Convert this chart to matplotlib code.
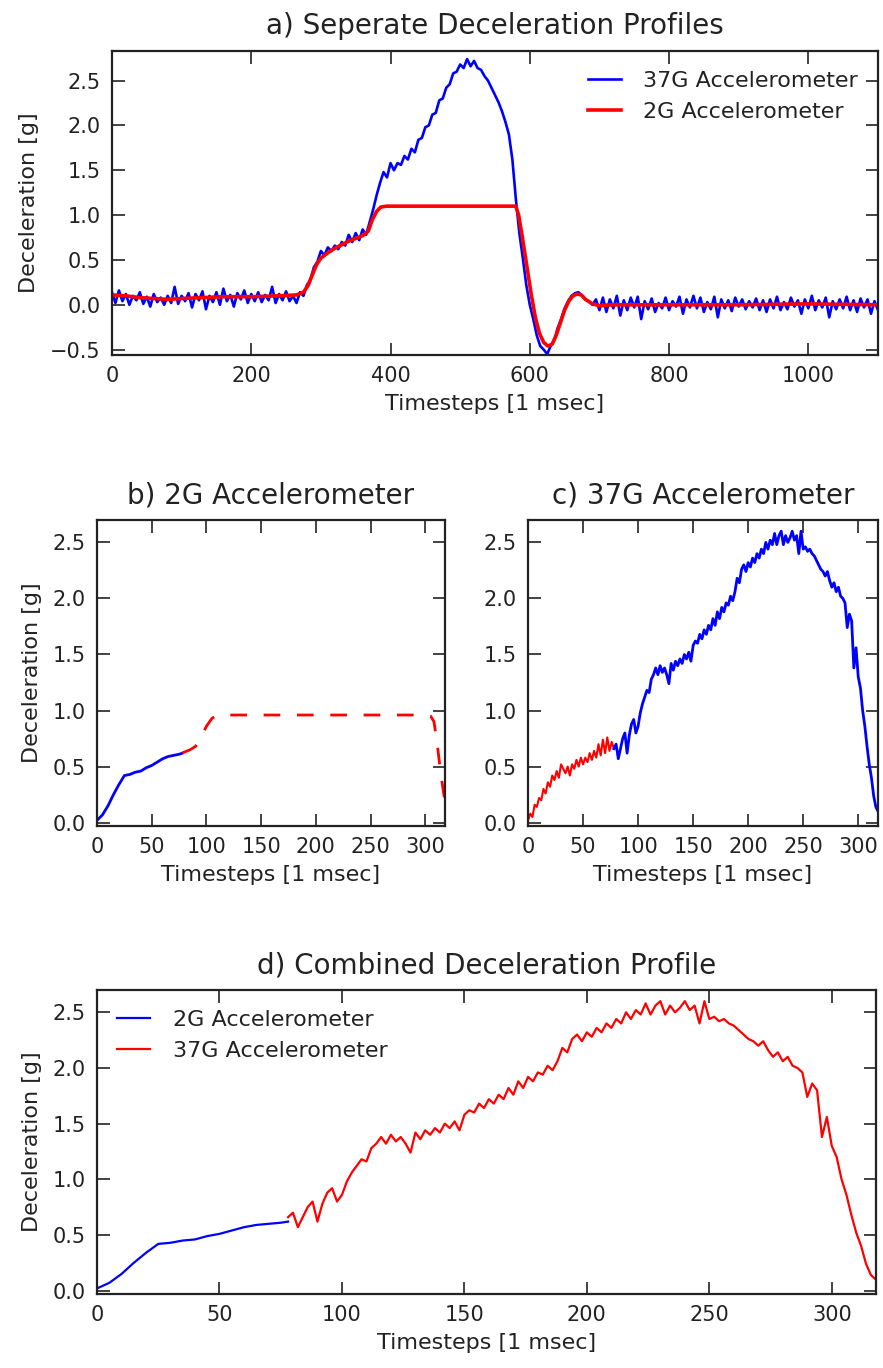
"""Deceleration profiles of the 2G and 37G accelerometers."""

import matplotlib

matplotlib.use("Agg")
import matplotlib.pyplot as plt
import numpy as np

# a) full recording, 37G trace read every 5 ms
t_full = np.arange(0, 1101, 5)
acc37_full = [
    0.14, 0.02, 0.16, 0.04, 0.12, 0.00, 0.10, 0.05, 0.14, 0.01, 0.09, -0.02, 0.12, 0.03, 0.08, 0.00, 0.10, 0.02, 0.20, 0.01,
    0.10, 0.04, 0.13, -0.03, 0.12, 0.05, 0.15, -0.05, 0.10, 0.03, 0.14, 0.00, 0.18, 0.04, 0.11, -0.02, 0.13, 0.06, 0.16, 0.02,
    0.12, 0.04, 0.14, 0.03, 0.11, 0.05, 0.20, 0.02, 0.12, 0.05, 0.15, 0.04, 0.10, 0.02, 0.14, 0.10, 0.22, 0.28, 0.42, 0.48,
    0.60, 0.55, 0.64, 0.60, 0.66, 0.62, 0.70, 0.66, 0.78, 0.70, 0.80, 0.72, 0.84, 0.78, 0.92, 1.06, 1.22, 1.36, 1.48, 1.42,
    1.58, 1.50, 1.58, 1.56, 1.66, 1.62, 1.74, 1.70, 1.84, 1.86, 1.98, 2.00, 2.12, 2.14, 2.28, 2.30, 2.42, 2.46, 2.58, 2.60,
    2.68, 2.64, 2.74, 2.66, 2.72, 2.64, 2.62, 2.55, 2.50, 2.42, 2.34, 2.26, 2.16, 2.04, 1.90, 1.62, 1.18, 0.80, 0.52, 0.22,
    0.00, -0.16, -0.34, -0.46, -0.50, -0.55, -0.46, -0.40, -0.26, -0.16, -0.04, 0.04, 0.10, 0.13, 0.14, 0.10, 0.06, 0.04, 0.00, 0.06,
    -0.06, 0.08, -0.08, 0.06, -0.04, 0.10, -0.12, 0.05, -0.06, 0.08, -0.03, 0.09, -0.16, 0.04, -0.05, 0.07, -0.08, 0.02, -0.04, 0.08,
    -0.06, 0.04, -0.02, 0.09, -0.10, 0.06, -0.03, 0.10, -0.04, 0.08, -0.08, 0.03, -0.05, 0.09, -0.14, 0.06, -0.04, 0.05, -0.07, 0.08,
    -0.02, 0.06, -0.05, 0.04, -0.03, 0.07, -0.06, 0.05, -0.08, 0.06, -0.04, 0.09, -0.06, 0.03, -0.05, 0.08, -0.02, 0.05, -0.10, 0.06,
    -0.04, 0.10, -0.06, 0.05, -0.03, 0.08, -0.14, 0.04, -0.05, 0.06, -0.04, 0.09, -0.06, 0.05, -0.08, 0.07, -0.03, 0.06, -0.10, 0.04,
    -0.06,
]

# a) full recording, 2G trace (smooth, saturates at 1.1 g)
t2_full = [0, 20, 40, 60, 80, 100, 130, 160, 200, 240, 265, 275, 282, 288, 294, 300, 310, 320, 330, 340,
           350, 360, 368, 374, 380, 386, 395, 580, 584, 590, 596, 602, 608, 614, 620, 626, 632, 638, 644, 650,
           656, 662, 668, 674, 680, 690, 700, 720, 800, 900, 1000, 1100]
acc2_full = [0.11, 0.10, 0.08, 0.07, 0.06, 0.07, 0.08, 0.09, 0.09, 0.10, 0.11, 0.14, 0.22, 0.34, 0.45, 0.52, 0.58, 0.63, 0.67, 0.71,
             0.74, 0.77, 0.82, 0.95, 1.04, 1.09, 1.10, 1.10, 1.00, 0.72, 0.42, 0.12, -0.14, -0.32, -0.42, -0.46, -0.44, -0.34, -0.20, -0.06,
             0.04, 0.10, 0.12, 0.11, 0.06, 0.01, -0.01, 0.00, 0.00, 0.00, 0.01, 0.00]

# b)-d) impact window, baseline removed
split_t = 78
t_2g = [0, 5, 10, 15, 20, 25, 30, 35, 40, 45, 50, 55, 60, 65, 70, 75, 78, 80, 85, 90,
        95, 100, 105, 110, 150, 200, 250, 300, 305, 308, 311, 314, 317, 318]
acc_2g = [0.02, 0.07, 0.15, 0.25, 0.34, 0.42, 0.43, 0.45, 0.46, 0.49, 0.51, 0.54, 0.57, 0.59, 0.60, 0.61, 0.62, 0.63, 0.65, 0.68,
          0.76, 0.86, 0.93, 0.96, 0.96, 0.96, 0.96, 0.96, 0.95, 0.90, 0.70, 0.45, 0.25, 0.20]

t_37g = np.arange(0, 319, 2)
acc_37g = [
    0.02, 0.08, 0.05, 0.16, 0.14, 0.22, 0.20, 0.30, 0.26, 0.36,
    0.32, 0.42, 0.38, 0.46, 0.40, 0.52, 0.48, 0.44, 0.50, 0.42,
    0.52, 0.48, 0.56, 0.50, 0.58, 0.52, 0.58, 0.54, 0.62, 0.56,
    0.64, 0.58, 0.70, 0.60, 0.74, 0.62, 0.76, 0.64, 0.72, 0.66,
    0.70, 0.57, 0.66, 0.75, 0.80, 0.62, 0.78, 0.88, 0.92, 0.80,
    0.86, 0.98, 1.06, 1.12, 1.18, 1.16, 1.28, 1.32, 1.38, 1.32,
    1.40, 1.34, 1.38, 1.32, 1.24, 1.42, 1.36, 1.44, 1.40, 1.46,
    1.42, 1.50, 1.46, 1.52, 1.44, 1.58, 1.62, 1.60, 1.68, 1.64,
    1.72, 1.68, 1.76, 1.72, 1.82, 1.76, 1.88, 1.82, 1.92, 1.88,
    1.96, 1.94, 2.02, 1.98, 2.06, 2.18, 2.14, 2.26, 2.30, 2.24,
    2.32, 2.28, 2.36, 2.32, 2.40, 2.36, 2.44, 2.40, 2.50, 2.44,
    2.52, 2.48, 2.58, 2.48, 2.56, 2.60, 2.48, 2.56, 2.50, 2.54,
    2.60, 2.52, 2.56, 2.40, 2.60, 2.44, 2.46, 2.42, 2.44, 2.40,
    2.38, 2.34, 2.30, 2.26, 2.24, 2.20, 2.24, 2.16, 2.10, 2.14,
    2.06, 2.10, 2.02, 2.00, 1.96, 1.74, 1.86, 1.80, 1.38, 1.56,
    1.30, 1.20, 1.00, 0.86, 0.68, 0.52, 0.40, 0.24, 0.14, 0.10,
]

TICK_SIZE = 15
LABEL_SIZE = 16
TITLE_SIZE = 20

plt.rcParams.update({
    "font.family": "DejaVu Sans",
    "xtick.direction": "in",
    "ytick.direction": "in",
    "xtick.top": True,
    "ytick.right": True,
    "xtick.major.size": 9,
    "ytick.major.size": 9,
    "xtick.major.width": 1.2,
    "ytick.major.width": 1.2,
    "xtick.major.pad": 8,
    "ytick.major.pad": 8,
    "xtick.labelsize": TICK_SIZE,
    "ytick.labelsize": TICK_SIZE,
    "axes.linewidth": 1.6,
    "axes.edgecolor": "#222222",
    "text.color": "#222222",
    "xtick.color": "#222222",
    "ytick.color": "#222222",
    "axes.labelcolor": "#222222",
})


def one_decimal(value, _pos):
    return f"{value:.1f}".replace("-", "\u2212")


def style_axes(ax, title, xlim, ylim, xticks):
    ax.set_title(title, fontsize=TITLE_SIZE, pad=12)
    ax.set_xlabel("Timesteps [1 msec]", fontsize=LABEL_SIZE, labelpad=6)
    ax.set_ylabel("Deceleration [g]", fontsize=LABEL_SIZE, labelpad=8)
    ax.set_xlim(*xlim)
    ax.set_ylim(*ylim)
    ax.set_xticks(xticks)
    ax.yaxis.set_major_formatter(matplotlib.ticker.FuncFormatter(one_decimal))


fig = plt.figure(figsize=(8.83, 13.68), dpi=100)

# a) separate profiles
ax_a = fig.add_axes([0.1268, 0.7405, 0.8675, 0.2222])
ax_a.plot(t_full, acc37_full, color="b", lw=1.9, label="37G Accelerometer")
ax_a.plot(t2_full, acc2_full, color="r", lw=2.6, label="2G Accelerometer")
style_axes(ax_a, "a) Seperate Deceleration Profiles", (0, 1100), (-0.56, 2.83), range(0, 1001, 200))
ax_a.set_yticks(np.arange(-0.5, 2.6, 0.5))
ax_a.legend(loc="upper right", frameon=False, fontsize=LABEL_SIZE, handlelength=1.5, handletextpad=1.0)

t_2g_arr = np.asarray(t_2g)
acc_2g_arr = np.asarray(acc_2g)
acc_37g_arr = np.asarray(acc_37g)
lo_2g = t_2g_arr <= split_t
hi_2g = t_2g_arr >= split_t
lo_37 = t_37g <= split_t
hi_37 = t_37g >= split_t

window = (0, 318)
ylim_w = (-0.03, 2.7)
xticks_w = range(0, 301, 50)

# b) 2G accelerometer
ax_b = fig.add_axes([0.1099, 0.3962, 0.394, 0.2237])
ax_b.plot(t_2g_arr[lo_2g], acc_2g_arr[lo_2g], color="b", lw=2.0)
ax_b.plot(t_2g_arr[hi_2g], acc_2g_arr[hi_2g], color="r", lw=2.0, dashes=(6, 6))
style_axes(ax_b, "b) 2G Accelerometer", window, ylim_w, xticks_w)

# c) 37G accelerometer
ax_c = fig.add_axes([0.598, 0.3962, 0.3964, 0.2237])
ax_c.plot(t_37g[lo_37], acc_37g_arr[lo_37], color="r", lw=1.5)
ax_c.plot(t_37g[hi_37], acc_37g_arr[hi_37], color="b", lw=2.0)
style_axes(ax_c, "c) 37G Accelerometer", window, ylim_w, xticks_w)
ax_c.set_ylabel("")

# d) combined profile
ax_d = fig.add_axes([0.1099, 0.0541, 0.882, 0.2222])
ax_d.plot(t_2g_arr[lo_2g], acc_2g_arr[lo_2g], color="b", lw=1.6, label="2G Accelerometer")
ax_d.plot(t_37g[hi_37], acc_37g_arr[hi_37], color="r", lw=1.6, label="37G Accelerometer")
style_axes(ax_d, "d) Combined Deceleration Profile", window, ylim_w, xticks_w)
ax_d.legend(loc="upper left", frameon=False, fontsize=LABEL_SIZE, handlelength=1.5, handletextpad=1.0)

fig.savefig("out.png", dpi=100, facecolor="white")
